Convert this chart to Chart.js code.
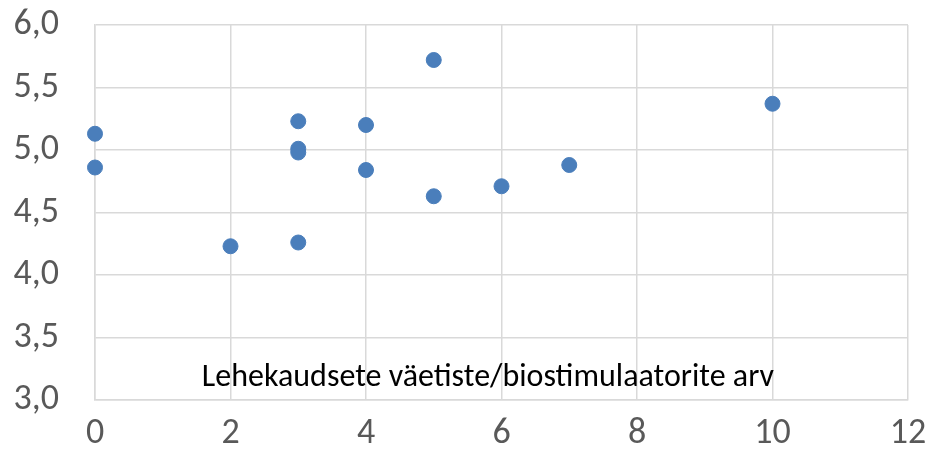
<!DOCTYPE html>
<html>
<head>
<meta charset="utf-8">
<script src="https://cdn.jsdelivr.net/npm/chart.js@4/dist/chart.umd.min.js"></script>
<style>
  html, body { margin: 0; padding: 0; background: #ffffff; }
  #wrap { width: 931px; height: 462px; }
</style>
</head>
<body>
<div id="wrap"><canvas id="scatterChart"></canvas></div>
<script>
// values
const xValues = [0, 0, 2, 3, 3, 3, 3, 4, 4, 5, 5, 6, 7, 10];
const yValues = [5.13, 4.86, 4.23, 5.23, 5.01, 4.98, 4.26, 5.20, 4.84, 5.72, 4.63, 4.71, 4.88, 5.37];
const xTicks = [0, 2, 4, 6, 8, 10, 12];
const yTicks = [3.0, 3.5, 4.0, 4.5, 5.0, 5.5, 6.0];
const axisLabel = 'Lehekaudsete väetiste/biostimulaatorite arv';

const FONT = "Carlito, Calibri, 'Liberation Sans Narrow', 'Liberation Sans', sans-serif";

/* ── axis label drawn inside the plot area ─────────── */
const innerLabel = {
    id: 'innerLabel',
    afterDraw(chart) {
        const { ctx, scales } = chart;
        const x = scales.x.getPixelForValue(5.8);
        const y = scales.y.getPixelForValue(3.18);
        ctx.save();
        ctx.font = '32px ' + FONT;
        ctx.fillStyle = '#000000';
        ctx.textAlign = 'center';
        ctx.textBaseline = 'middle';
        ctx.fillText(axisLabel, x, y);
        ctx.restore();
    }
};

const points = xValues.map((x, i) => ({ x: x, y: yValues[i] }));

new Chart(document.getElementById('scatterChart'), {
    type: 'scatter',
    data: {
        datasets: [{
            data: points,
            backgroundColor: '#4a7ebb',
            borderColor: '#4a7ebb',
            pointRadius: 7.5,
            pointHoverRadius: 7.5,
            clip: false
        }]
    },
    options: {
        responsive: true,
        maintainAspectRatio: false,
        animation: false,
        layout: { padding: { top: 25, right: 23, left: 0, bottom: 0 } },
        plugins: {
            legend: { display: false },
            tooltip: { enabled: false }
        },
        scales: {
            x: {
                type: 'linear',
                min: xTicks[0],
                max: xTicks[xTicks.length - 1],
                afterBuildTicks: (s) => { s.ticks = xTicks.map(v => ({ value: v })); },
                afterFit: (s) => {
                    s.height = 62;
                    s.paddingLeft = 0;
                    s.paddingRight = 0;
                },
                grid: { color: '#d9d9d9', lineWidth: 1.5, drawTicks: false },
                border: { color: '#d9d9d9', width: 1.5 },
                ticks: {
                    color: '#595959',
                    font: { family: FONT, size: 36 },
                    padding: 12,
                    maxRotation: 0,
                    callback: (v) => String(v)
                }
            },
            y: {
                type: 'linear',
                min: yTicks[0],
                max: yTicks[yTicks.length - 1],
                afterBuildTicks: (s) => { s.ticks = yTicks.map(v => ({ value: v })); },
                afterFit: (s) => {
                    s.width = 95;
                    s.paddingTop = 0;
                    s.paddingBottom = 0;
                },
                grid: { color: '#d9d9d9', lineWidth: 1.5, drawTicks: false },
                border: { color: '#d9d9d9', width: 1.5 },
                ticks: {
                    color: '#595959',
                    font: { family: FONT, size: 36 },
                    padding: 36,
                    callback: (v) => v.toFixed(1).replace('.', ',')
                }
            }
        }
    },
    plugins: [innerLabel]
});
</script>
</body>
</html>
